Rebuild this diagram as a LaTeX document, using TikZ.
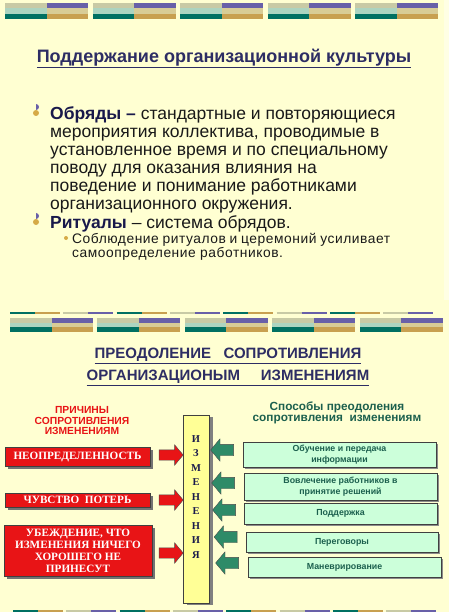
\documentclass[tikz,border=0pt]{standalone}
\usepackage{fontspec}
\setmainfont{Liberation Sans}
\newfontfamily\timesfont{Liberation Serif}
\usetikzlibrary{shapes.arrows, shadows, positioning}

\definecolor{slidebg}{RGB}{255,255,210}
\definecolor{slideedge}{RGB}{255,255,228}
\definecolor{titlenavy}{RGB}{45,45,100}
\definecolor{boldnavy}{RGB}{25,25,75}
\definecolor{bodyblack}{RGB}{25,25,25}
\definecolor{causered}{RGB}{232,20,22}
\definecolor{waygreen}{RGB}{46,139,104}
\definecolor{waymint}{RGB}{204,255,218}
\definecolor{waytext}{RGB}{28,96,78}
\definecolor{changeyellow}{RGB}{255,255,150}
\definecolor{barsage}{RGB}{200,202,165}
\definecolor{barpurple}{RGB}{104,96,168}
\definecolor{baraqua}{RGB}{172,212,192}
\definecolor{barbeige}{RGB}{216,204,150}
\definecolor{barteal}{RGB}{0,112,98}
\definecolor{bargold}{RGB}{200,160,80}
\definecolor{bulletgold}{RGB}{214,170,70}

% one coloured bar of the slide header: left x, top y, height
\newcommand{\slidebar}[3]{%
  \fill[barsage] (#1,#2) rectangle (#1+41.5,#2+#3/3);
  \fill[barpurple] (#1+41.5,#2) rectangle (#1+83,#2+#3/3);
  \fill[baraqua] (#1,#2+#3/3) rectangle (#1+41.5,#2+2*#3/3);
  \fill[barbeige] (#1+41.5,#2+#3/3) rectangle (#1+83,#2+2*#3/3);
  \fill[barteal] (#1,#2+2*#3/3) rectangle (#1+41.5,#2+#3);
  \fill[bargold] (#1+41.5,#2+2*#3/3) rectangle (#1+83,#2+#3);
}

\begin{document}
\begin{tikzpicture}
    %defining some styles
    [
        x=1pt, y=-1pt,
        causebox/.style={rectangle, draw=black!75, fill=causered, text=white, align=center, inner sep=0pt,
            font=\timesfont\bfseries\fontsize{11.2}{12}\selectfont,
            drop shadow={shadow xshift=3pt, shadow yshift=-3pt, fill=black!55, opacity=1}},
        waybox/.style={rectangle, draw=black!75, fill=waymint, text=waytext, align=center, inner sep=0pt,
            font=\bfseries\fontsize{8.8}{10.5}\selectfont,
            drop shadow={shadow xshift=1.5pt, shadow yshift=-1.5pt, fill=black!45, opacity=1}},
        redarrow/.style={single arrow, draw=black!70, fill=causered, inner sep=5pt, minimum height=24pt,
            single arrow head extend=5pt, single arrow tip angle=100},
        greenarrow/.style={single arrow, shape border rotate=180, draw=black!70, fill=waygreen, inner sep=5.5pt,
            minimum height=23pt, single arrow head extend=5.5pt, single arrow tip angle=100},
        heading/.style={align=center, font=\bfseries\fontsize{10.3}{10.5}\selectfont},
    ]
    % background and frame
    \fill[slidebg] (0,0) rectangle (449,612);
    \fill[slideedge] (444,0) rectangle (449,300);

    % upper slide
    \foreach \x in {5,92.5,180,267.5,355} {\slidebar{\x}{3}{16}}
    \node (cultitle) at (224,58.5) [text=titlenavy, font=\bfseries\fontsize{18}{20}\selectfont]
        {\underline{Поддержание организационной культуры}};

    \fill[bulletgold] (36,113) circle (3);
    \fill[barpurple] (36,110) arc (90:-90:3) -- cycle;
    \node (rites) at (50,106.5) [anchor=north west, align=left, inner sep=0pt, text=bodyblack,
        font=\fontsize{17.5}{18}\selectfont]
        {{\bfseries\color{boldnavy}Обряды –} стандартные и повторяющиеся\\
         мероприятия коллектива, проводимые в\\
         установленное время и по специальному\\
         поводу для оказания влияния на\\
         поведение и понимание работниками\\
         организационного окружения.};
    \fill[bulletgold] (36,222) circle (3);
    \fill[barpurple] (36,219) arc (90:-90:3) -- cycle;
    \node (rituals) at (50,215.5) [anchor=north west, inner sep=0pt, text=bodyblack,
        font=\fontsize{17.5}{18}\selectfont]
        {{\bfseries\color{boldnavy}Ритуалы} – система обрядов.};
    \fill[bulletgold] (66,238) circle (2);
    \node (ritualnote) at (72,233) [anchor=north west, align=left, inner sep=0pt, text=bodyblack,
        font=\fontsize{13.8}{14}\selectfont\addfontfeatures{LetterSpace=4}]
        {\makebox[318pt][s]{Соблюдение ритуалов и церемоний усиливает}\\
         самоопределение работников.};

    % lower slide
    \foreach \i/\ca/\cb in {0/barteal/bargold,1/barsage/barpurple,2/barteal/bargold,3/barsage/barpurple,
                            4/barteal/bargold,5/barsage/barpurple,6/barteal/bargold,7/barsage/barpurple} {
        \draw[\ca, line width=2pt] (10+\i*53.3,313) -- ++(25,0);
        \draw[\cb, line width=2pt] (35+\i*53.3,313) -- ++(25,0);
        \draw[\ca, line width=2pt] (13+\i*53.3,611) -- ++(25,0);
        \draw[\cb, line width=2pt] (38+\i*53.3,611) -- ++(25,0);
    }
    \foreach \x in {10,97,184.5,272,359.5} {\slidebar{\x}{318}{14}}
    \node (restitle) at (228,367) [align=center, text=titlenavy, font=\bfseries\fontsize{15}{22}\selectfont]
        {\underline{ПРЕОДОЛЕНИЕ~~~СОПРОТИВЛЕНИЯ}\\ \underline{ОРГАНИЗАЦИОНЫМ~~~~~ИЗМЕНЕНИЯМ}};

    \node (causes) at (82,421) [heading, text=causered] {ПРИЧИНЫ\\СОПРОТИВЛЕНИЯ\\ИЗМЕНЕНИЯМ};
    \node (ways) at (337,412.5) [heading, text=waytext, font=\bfseries\fontsize{11.8}{11}\selectfont]
        {Способы преодоления\\сопротивления~~изменениям};

    \node (cause1) at (77.5,456.5) [causebox, minimum width=145pt, minimum height=19pt] {НЕОПРЕДЕЛЕННОСТЬ};
    \node (cause2) at (77.5,500) [causebox, minimum width=145pt, minimum height=14pt] {ЧУВСТВО~~ПОТЕРЬ};
    \node (cause3) at (78,550.5) [causebox, minimum width=148pt, minimum height=51pt]
        {УБЕЖДЕНИЕ, ЧТО\\ИЗМЕНЕНИЯ НИЧЕГО\\ХОРОШЕГО НЕ\\ПРИНЕСУТ};

    \node (change) at (196,509) [rectangle, draw=black!75, fill=changeyellow, minimum width=26pt, minimum height=188pt,
        drop shadow={shadow xshift=3.5pt, shadow yshift=-2pt, fill=black!50, opacity=1}] {};
    \node (changeword) at (196,497) [align=center, inner sep=0pt, text=boldnavy,
        font=\timesfont\bfseries\fontsize{10.5}{14.5}\selectfont] {И\\З\\М\\Е\\Н\\Е\\Н\\И\\Я};

    \node (push1) at (169,455) [redarrow] {};
    \node (push2) at (169,500) [redarrow] {};
    \node (push3) at (169,553) [redarrow] {};

    \node (way1) at (339.5,454.5) [waybox, minimum width=193pt, minimum height=25pt] {Обучение и передача\\информации};
    \node (way2) at (340.5,486.5) [waybox, minimum width=193pt, minimum height=27pt] {Вовлечение работников в\\принятие решений};
    \node (way3) at (340.5,513.5) [waybox, minimum width=193pt, minimum height=21pt] {Поддержка};
    \node (way4) at (342,542) [waybox, minimum width=192pt, minimum height=20pt] {Переговоры};
    \node (way5) at (344.5,567) [waybox, minimum width=193pt, minimum height=20pt] {Маневрирование};

    \node (pull1) at (224.5,450) [greenarrow] {};
    \node (pull2) at (225.5,483) [greenarrow] {};
    \node (pull3) at (226.5,510) [greenarrow] {};
    \node (pull4) at (228,537) [greenarrow] {};
    \node (pull5) at (229.5,563) [greenarrow] {};
\end{tikzpicture}
\end{document}
